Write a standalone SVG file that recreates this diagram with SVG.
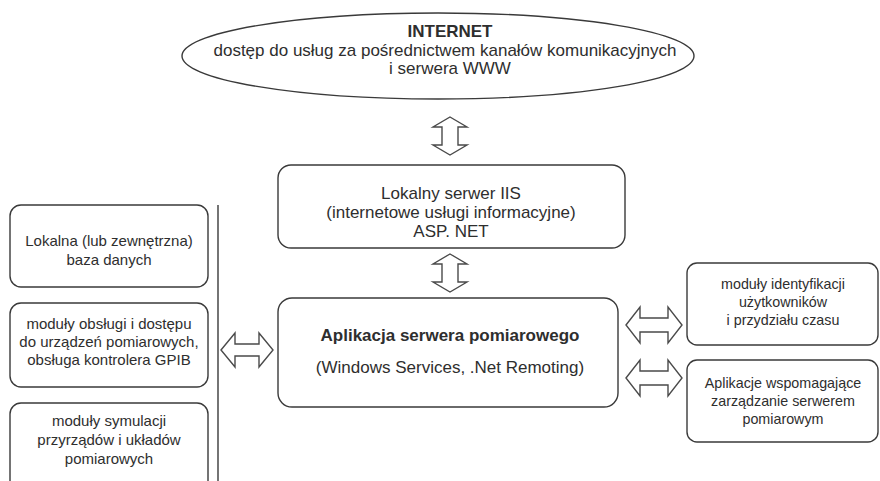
<svg xmlns="http://www.w3.org/2000/svg" width="880" height="481" viewBox="0 0 880 481">
<style>
.box{fill:#fff;stroke:#3a3a3a;stroke-width:1.4}
.arr{fill:#fff;stroke:#4a4a4a;stroke-width:1.4;stroke-linejoin:miter}
text{font-family:"Liberation Sans",Arial,sans-serif;fill:#2e2e2e;text-anchor:middle}
.t17{font-size:17px}
.t15{font-size:15px}
.t14{font-size:14.3px}
.b{font-weight:bold}
</style>
<rect width="880" height="481" fill="#fff"/>
<g id="internet">
<ellipse class="box" cx="438" cy="56" rx="256" ry="43"/>
<text class="t17 b" x="450" y="37">INTERNET</text>
<text class="t17" x="445" y="56">dostęp do usług za pośrednictwem kanałów komunikacyjnych</text>
<text class="t17" x="450" y="74">i serwera WWW</text>
</g>
<g id="iis">
<rect class="box" x="278" y="165" width="347" height="83" rx="13"/>
<text class="t17" x="451" y="199">Lokalny serwer IIS</text>
<text class="t17" x="451" y="218">(internetowe usługi informacyjne)</text>
<text class="t17" x="451" y="237">ASP. NET</text>
</g>
<g id="app">
<rect class="box" x="278" y="298" width="340" height="109" rx="14"/>
<text class="t17 b" x="450" y="341">Aplikacja serwera pomiarowego</text>
<text class="t17" x="450" y="373">(Windows Services, .Net Remoting)</text>
</g>
<g id="db">
<rect class="box" x="10" y="205" width="198" height="82" rx="11"/>
<text class="t15" x="109" y="246">Lokalna (lub zewnętrzna)</text>
<text class="t15" x="109" y="265">baza danych</text>
</g>
<g id="devices">
<rect class="box" x="10" y="303" width="198" height="84" rx="11"/>
<text class="t15" x="109" y="329">moduły obsługi i dostępu</text>
<text class="t15" x="109" y="347">do urządzeń pomiarowych,</text>
<text class="t15" x="109" y="365">obsługa kontrolera GPIB</text>
</g>
<g id="simulation">
<rect class="box" x="10" y="403" width="198" height="95" rx="11"/>
<text class="t15" x="109" y="426">moduły symulacji</text>
<text class="t15" x="109" y="445">przyrządów i układów</text>
<text class="t15" x="109" y="464">pomiarowych</text>
</g>
<g id="users">
<rect class="box" x="687" y="263" width="191" height="82" rx="10"/>
<text class="t14" x="783" y="289">moduły identyfikacji</text>
<text class="t14" x="783" y="307">użytkowników</text>
<text class="t14" x="783" y="325">i przydziału czasu</text>
</g>
<g id="admin">
<rect class="box" x="687" y="360" width="191" height="82" rx="10"/>
<text class="t14" x="783" y="388">Aplikacje wspomagające</text>
<text class="t14" x="783" y="406">zarządzanie serwerem</text>
<text class="t14" x="783" y="424">pomiarowym</text>
</g>
<g id="connectors">
<line x1="218" y1="205" x2="218" y2="481" stroke="#3a3a3a" stroke-width="1.4"/>
<path class="arr" d="M450,117 L467,127 L458,127 L458,145 L467,145 L450,155 L433,145 L442,145 L442,127 L433,127 Z"/>
<path class="arr" d="M450,254 L467,264 L458,264 L458,282 L467,282 L450,292 L433,282 L442,282 L442,264 L433,264 Z"/>
<path class="arr" d="M221,350 L235,333 L235,344 L259,344 L259,333 L273,350 L259,367 L259,356 L235,356 L235,367 Z"/>
<path class="arr" d="M626,325 L640,307 L640,318 L668,318 L668,307 L682,325 L668,343 L668,332 L640,332 L640,343 Z"/>
<path class="arr" d="M626,378 L640,360 L640,371 L668,371 L668,360 L682,378 L668,396 L668,385 L640,385 L640,396 Z"/>
</g>
</svg>
